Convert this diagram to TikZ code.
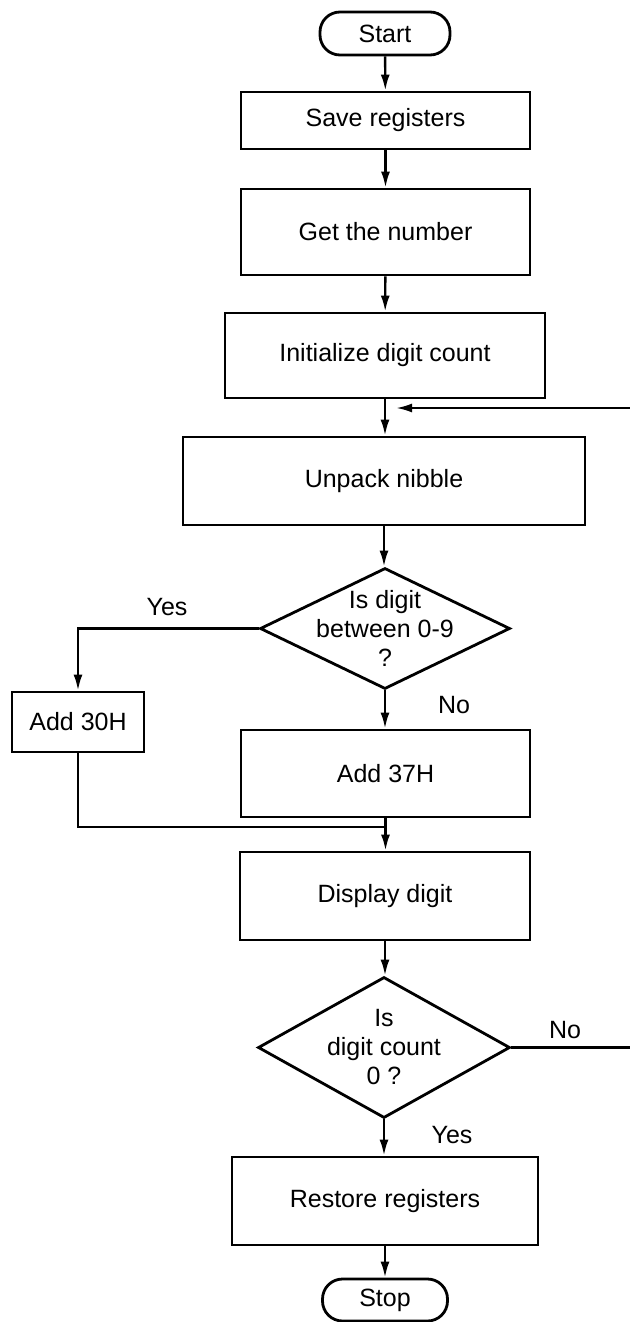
\documentclass[tikz,border=0pt]{standalone}
\usepackage{fontspec}
\setmainfont{Liberation Sans}
\usetikzlibrary{arrows.meta,shapes.geometric}
\begin{document}
\begin{tikzpicture}[x=1pt,y=-1pt,
  every node/.style={font=\fontsize{25}{29}\selectfont},
  box/.style={draw,line width=2.8pt,rectangle,inner sep=0pt,align=center},
  term/.style={draw,line width=2.8pt,rectangle,rounded corners=20pt,inner sep=0pt},
  dia/.style={draw,line width=2.8pt,diamond,inner sep=-10pt,align=center},
  lbl/.style={inner sep=0pt},
  flow/.style={line width=2.4pt,-{Latex[length=16pt,width=9pt]}},
  plain/.style={line width=2.4pt}]
\useasboundingbox (0,0) rectangle (629,1322);
\node[term,minimum width=130,minimum height=43] (start) at (385,33.5) {Start};
\node[box,minimum width=289,minimum height=57] (save) at (385.5,120.5) {Save registers};
\node[box,minimum width=289,minimum height=86] (getn) at (385.5,232) {Get the number};
\node[box,minimum width=320,minimum height=85] (init) at (385,355.5) {Initialize digit count};
\node[box,minimum width=402,minimum height=88] (unpack) at (384,481) {Unpack nibble};
\node[dia,minimum width=250,minimum height=121,aspect=2.07] (dec1) at (385,628.5) {Is digit\\between 0-9\\?};
\node[box,minimum width=132,minimum height=60] (add30) at (78,722) {Add 30H};
\node[box,minimum width=289,minimum height=87] (add37) at (385.5,773.5) {Add 37H};
\node[box,minimum width=290,minimum height=88] (disp) at (385,896) {Display digit};
\node[dia,minimum width=252,minimum height=141,aspect=1.79] (dec2) at (384,1047.5) {Is\\digit count\\0 ?};
\node[box,minimum width=306,minimum height=88] (rest) at (385,1201) {Restore registers};
\node[term,minimum width=125,minimum height=42] (stop) at (385,1300) {Stop};
\node[lbl] (yes1) at (167,607) {Yes};
\node[lbl] (no1) at (454,705) {No};
\node[lbl] (no2) at (565,1030) {No};
\node[lbl] (yes2) at (452,1135) {Yes};
\coordinate (j1) at (385,408);
\coordinate (m) at (385,827);
\coordinate (r1) at (633,1047.5);
\coordinate (r2) at (633,408);
\draw[flow] (start) -- (save);
\draw[flow] (save) -- (getn);
\draw[flow] (getn) -- (init);
\draw[flow] (init.south) -- (init.south |- unpack.north);
\draw[flow] (unpack.south) -- (unpack.south |- dec1.north);
\draw[flow] (dec1.west) -| (add30.north);
\draw[flow] (dec1.south) -- (dec1.south |- add37.north);
\draw[plain] (add30.south) |- (m);
\draw[flow] (add37.south) -- (add37.south |- disp.north);
\draw[flow] (disp.south) -- (disp.south |- dec2.north);
\draw[flow] (dec2.south) -- (dec2.south |- rest.north);
\draw[flow] (rest) -- (stop);
\draw[flow,shorten >=11pt] (dec2.east) -- (r1) -- (r2) -- (j1);
\end{tikzpicture}
\end{document}
